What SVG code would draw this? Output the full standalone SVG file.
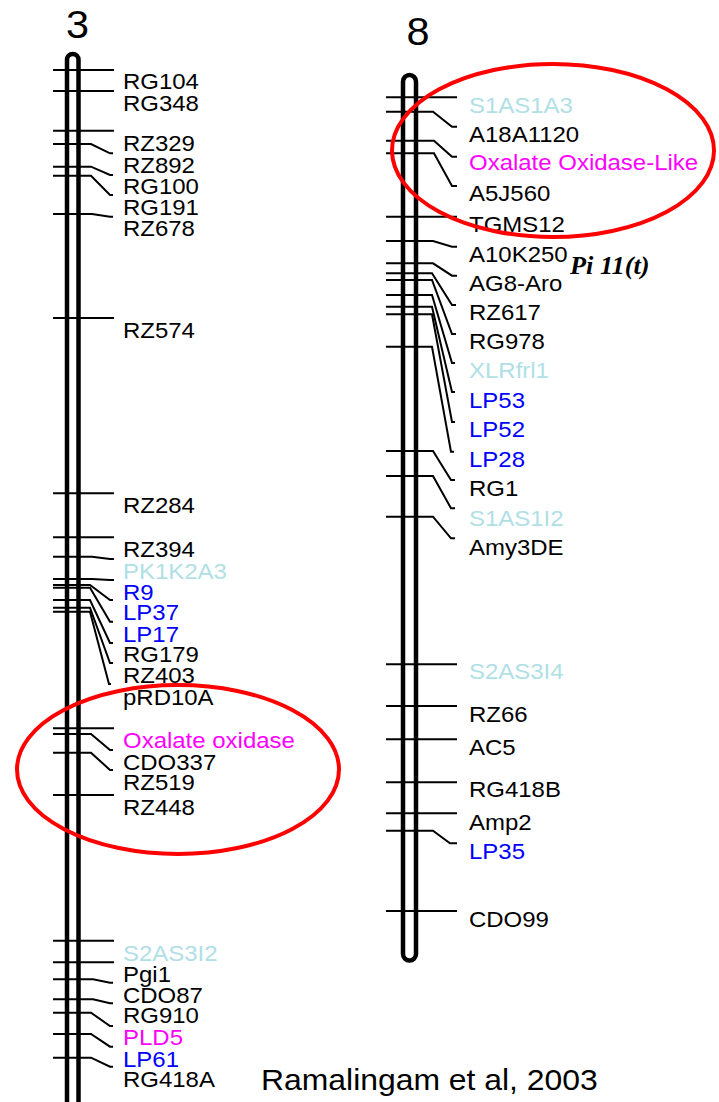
<svg xmlns="http://www.w3.org/2000/svg" width="719" height="1102" viewBox="0 0 719 1102">
<style>
.chr{fill:#fff;stroke:#000;stroke-width:4.5}
.ld{fill:none;stroke:#000;stroke-width:2}
.lb{font-family:"Liberation Sans",Arial,sans-serif;font-size:22px;fill:#000}
.lt{fill:#b0e0e6}
.bl{fill:#0000ff}
.mg{fill:#ff00ff}
.ttl{font-family:"Liberation Sans",Arial,sans-serif;font-size:38px;fill:#000;text-anchor:middle}
.ell{fill:none;stroke:#ff0000;stroke-width:4}
</style>
<rect width="719" height="1102" fill="#fff"/>
<g id="chr3">
<rect class="chr" x="67" y="54" width="11.5" height="1100" rx="5.75"/>
<text class="ttl" x="77.5" y="38" transform="translate(77.5,0) scale(1.09,1) translate(-77.5,0)">3</text>
</g>
<g id="chr8">
<rect class="chr" x="403" y="75" width="13" height="885.5" rx="6.5"/>
<text class="ttl" x="418" y="45" transform="translate(418,0) scale(1.09,1) translate(-418,0)">8</text>
</g>
<g id="connectors">
<path class="ld" d="M53,70H114"/>
<path class="ld" d="M53,91H114"/>
<path class="ld" d="M53,130.7H114"/>
<path class="ld" d="M53,144H91L110,153.3H113"/>
<path class="ld" d="M53,166.7H91L110,175H113"/>
<path class="ld" d="M53,175.7H91L110,195H113"/>
<path class="ld" d="M53,214H92L110,216.7H113"/>
<path class="ld" d="M53,318H114"/>
<path class="ld" d="M53,493.3H114"/>
<path class="ld" d="M53,537.3H114"/>
<path class="ld" d="M53,556.7H92L110,559H114"/>
<path class="ld" d="M53,579H92L110,580H114"/>
<path class="ld" d="M53,585H90L110,600H113"/>
<path class="ld" d="M53,587.7H90L110,621.7H113"/>
<path class="ld" d="M53,600H90L110,643H113"/>
<path class="ld" d="M53,607.7H90L110,663H113"/>
<path class="ld" d="M53,611.7H90L109,684H111"/>
<path class="ld" d="M53,728.3H114"/>
<path class="ld" d="M53,734H91L110,750H113"/>
<path class="ld" d="M53,752.7H91L110,770H113"/>
<path class="ld" d="M53,795H114"/>
<path class="ld" d="M53,940.7H114"/>
<path class="ld" d="M53,962.3H114"/>
<path class="ld" d="M53,979.3H93L110,982.7H113"/>
<path class="ld" d="M53,999.3H93L110,1003.3H113"/>
<path class="ld" d="M53,1012.7H91L110,1026H113"/>
<path class="ld" d="M53,1034H91L110,1046.7H113"/>
<path class="ld" d="M53,1057.7H91L110,1066.7H113"/>
<path class="ld" d="M386,97.3H457"/>
<path class="ld" d="M386,111.7H433L452,126.7H457"/>
<path class="ld" d="M386,140.7H434L452,156.7H457"/>
<path class="ld" d="M386,153.3H434L452,186H457"/>
<path class="ld" d="M386,216.7H457"/>
<path class="ld" d="M386,241H433L452,246.7H457"/>
<path class="ld" d="M386,263.3H433L452,275.7H457"/>
<path class="ld" d="M386,273.3H432L452,305H456"/>
<path class="ld" d="M386,280H432L452,334H456"/>
<path class="ld" d="M386,295H432L452,363H455"/>
<path class="ld" d="M386,306.7H432L452,392H455"/>
<path class="ld" d="M386,314.3H432L452,422H455"/>
<path class="ld" d="M386,346.7H432L451,451.7H454"/>
<path class="ld" d="M386,451H433L451,480H455"/>
<path class="ld" d="M386,476H433L451,508.3H455"/>
<path class="ld" d="M386,516.7H433L451,538.3H455"/>
<path class="ld" d="M386,664.3H457"/>
<path class="ld" d="M386,706H457"/>
<path class="ld" d="M386,739.3H457"/>
<path class="ld" d="M386,782.3H457"/>
<path class="ld" d="M386,813.3H457"/>
<path class="ld" d="M386,830.7H433L450,843.3H457"/>
<path class="ld" d="M386,911H457"/>
</g>
<g id="labels3" class="lb" transform="translate(123,0) scale(1.09,1)">
<g id="m-RG104"><text x="0" y="89">RG104</text></g>
<g id="m-RG348"><text x="0" y="111">RG348</text></g>
<g id="m-RZ329"><text x="0" y="151">RZ329</text></g>
<g id="m-RZ892"><text x="0" y="173">RZ892</text></g>
<g id="m-RG100"><text x="0" y="194">RG100</text></g>
<g id="m-RG191"><text x="0" y="215">RG191</text></g>
<g id="m-RZ678"><text x="0" y="236.5">RZ678</text></g>
<g id="m-RZ574"><text x="0" y="338">RZ574</text></g>
<g id="m-RZ284"><text x="0" y="513">RZ284</text></g>
<g id="m-RZ394"><text x="0" y="557">RZ394</text></g>
<g id="m-PK1K2A3"><text class="lt" x="0" y="579">PK1K2A3</text></g>
<g id="m-R9"><text class="bl" x="0" y="600">R9</text></g>
<g id="m-LP37"><text class="bl" x="0" y="620">LP37</text></g>
<g id="m-LP17"><text class="bl" x="0" y="641.7">LP17</text></g>
<g id="m-RG179"><text x="0" y="662">RG179</text></g>
<g id="m-RZ403"><text x="0" y="683">RZ403</text></g>
<g id="m-pRD10A"><text x="0" y="705">pRD10A</text></g>
<g id="m-OxOx"><text class="mg" x="0" y="748">Oxalate oxidase</text></g>
<g id="m-CDO337"><text x="0" y="770">CDO337</text></g>
<g id="m-RZ519"><text x="0" y="790.5">RZ519</text></g>
<g id="m-RZ448"><text x="0" y="815.5">RZ448</text></g>
<g id="m-S2AS3I2"><text class="lt" x="0" y="961.5">S2AS3I2</text></g>
<g id="m-Pgi1"><text x="0" y="982.5">Pgi1</text></g>
<g id="m-CDO87"><text x="0" y="1003">CDO87</text></g>
<g id="m-RG910"><text x="0" y="1023.5">RG910</text></g>
<g id="m-PLD5"><text class="mg" x="0" y="1045.5">PLD5</text></g>
<g id="m-LP61"><text class="bl" x="0" y="1066.7">LP61</text></g>
<g id="m-RG418A"><text x="0" y="1087">RG418A</text></g>
</g>
<g id="labels8" class="lb" transform="translate(469,0) scale(1.09,1)">
<g id="m-S1AS1A3"><text class="lt" x="0" y="113">S1AS1A3</text></g>
<g id="m-A18A1120"><text x="0" y="141.7">A18A1120</text></g>
<g id="m-OxOxL"><text class="mg" x="0" y="170">Oxalate Oxidase-Like</text></g>
<g id="m-A5J560"><text x="0" y="201.5">A5J560</text></g>
<g id="m-TGMS12"><text x="0" y="231.7">TGMS12</text></g>
<g id="m-A10K250"><text x="0" y="261.7">A10K250</text></g>
<g id="m-AG8-Aro"><text x="0" y="291.5">AG8-Aro</text></g>
<g id="m-RZ617"><text x="0" y="320">RZ617</text></g>
<g id="m-RG978"><text x="0" y="349">RG978</text></g>
<g id="m-XLRfrl1"><text class="lt" x="0" y="378">XLRfrl1</text></g>
<g id="m-LP53"><text class="bl" x="0" y="408">LP53</text></g>
<g id="m-LP52"><text class="bl" x="0" y="437">LP52</text></g>
<g id="m-LP28"><text class="bl" x="0" y="467">LP28</text></g>
<g id="m-RG1"><text x="0" y="496.5">RG1</text></g>
<g id="m-S1AS1I2"><text class="lt" x="0" y="526.5">S1AS1I2</text></g>
<g id="m-Amy3DE"><text x="0" y="555">Amy3DE</text></g>
<g id="m-S2AS3I4"><text class="lt" x="0" y="679.5">S2AS3I4</text></g>
<g id="m-RZ66"><text x="0" y="721.7">RZ66</text></g>
<g id="m-AC5"><text x="0" y="755">AC5</text></g>
<g id="m-RG418B"><text x="0" y="797.5">RG418B</text></g>
<g id="m-Amp2"><text x="0" y="830">Amp2</text></g>
<g id="m-LP35"><text class="bl" x="0" y="859.5">LP35</text></g>
<g id="m-CDO99"><text x="0" y="927.5">CDO99</text></g>
</g>
<g id="annotations">
<text x="0" y="274" transform="translate(570,0) scale(1.05,1)" style="font-family:'Liberation Serif','Times New Roman',serif;font-size:25px;font-weight:bold;font-style:italic">Pi 11(t)</text>
<text x="0" y="1090" transform="translate(261,0) scale(1.1,1)" style="font-family:'Liberation Sans',Arial,sans-serif;font-size:29px">Ramalingam et al, 2003</text>
<ellipse class="ell" cx="178" cy="769.5" rx="161" ry="84.5"/>
<ellipse class="ell" cx="553" cy="150.5" rx="161" ry="86.5"/>
</g>
</svg>
